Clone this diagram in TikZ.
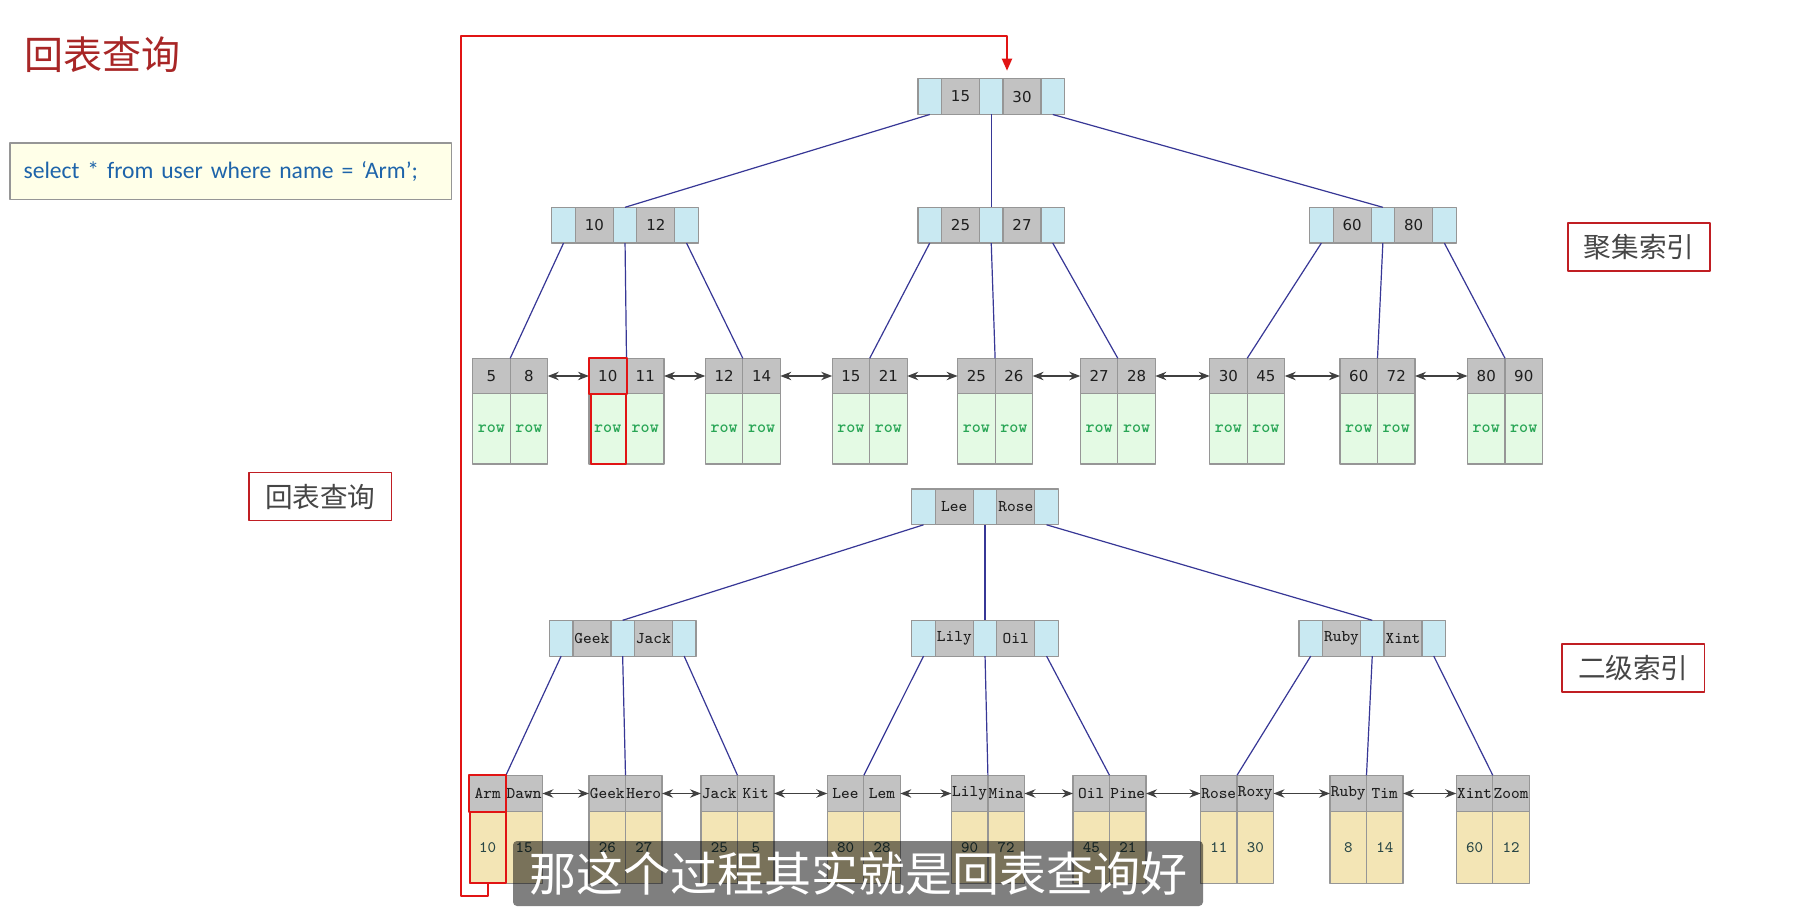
\documentclass[tikz,border=0pt]{standalone}
\usepackage{fontspec}
\usetikzlibrary{positioning,arrows.meta}
\newfontfamily\cjk{Noto Sans CJK SC}
\newfontfamily\keyfont{DejaVu Sans}
\newfontfamily\sqlfont{Carlito}
\definecolor{ptrblue}{RGB}{201,233,242}
\definecolor{keygray}{RGB}{194,194,194}
\definecolor{cellline}{RGB}{150,150,150}
\definecolor{rowgreen}{RGB}{228,250,228}
\definecolor{rowtext}{RGB}{40,165,85}
\definecolor{valtan}{RGB}{243,229,181}
\definecolor{valtext}{RGB}{40,70,70}
\definecolor{keytext}{RGB}{30,30,30}
\definecolor{treeline}{RGB}{55,55,150}
\definecolor{chainline}{RGB}{64,64,64}
\definecolor{titlered}{RGB}{168,38,38}
\definecolor{tagred}{RGB}{192,30,35}
\definecolor{tagtext}{RGB}{70,70,70}
\definecolor{sqlfill}{RGB}{255,255,232}
\definecolor{sqltext}{RGB}{30,100,170}
\definecolor{loopred}{RGB}{225,20,20}

% one inner node: pointer / key / pointer / key / pointer
\newcommand{\btnode}[6]{%
  \node[pcell, anchor=north west] (#2p1) at (#3,#4) {};
  \node[#1 ikey, right=0pt of #2p1] (#2k1) {#5};
  \node[pcell, right=0pt of #2k1] (#2p2) {};
  \node[#1 ikey, right=0pt of #2p2] (#2k2) {#6};
  \node[pcell, right=0pt of #2k2] (#2p3) {};
}
% one leaf: two keys with their values below
\newcommand{\btleaf}[8]{%
  \node[#1 key, anchor=north west] (#2k1) at (#3,#4) {#5};
  \node[#1 key, right=0pt of #2k1] (#2k2) {#6};
  \node[#1 val, below=0pt of #2k1] (#2v1) {#7};
  \node[#1 val, below=0pt of #2k2] (#2v2) {#8};
}

\tikzset{
  btcell/.style={draw=cellline, line width=0.6pt, inner sep=0pt, outer sep=0pt},
  pcell/.style={btcell, fill=ptrblue, minimum width=11.75pt, minimum height=17.9pt},
  cl ikey/.style={btcell, fill=keygray, minimum width=19pt, minimum height=17.9pt, text=keytext, font=\keyfont\fontsize{7.5}{8}\selectfont},
  sk ikey/.style={btcell, fill=keygray, minimum width=19pt, minimum height=17.9pt, text=keytext, font=\ttfamily\fontsize{8.2}{9}\selectfont},
  cl key/.style={btcell, fill=keygray, minimum width=18.75pt, minimum height=17.7pt, text=keytext, font=\keyfont\fontsize{7.5}{8}\selectfont},
  cl val/.style={btcell, fill=rowgreen, minimum width=18.75pt, minimum height=35.15pt, text=rowtext, font=\ttfamily\bfseries\fontsize{8.6}{9}\selectfont},
  sk key/.style={btcell, fill=keygray, minimum width=18.25pt, minimum height=18.2pt, text=keytext, font=\ttfamily\fontsize{8.2}{9}\selectfont},
  sk val/.style={btcell, fill=valtan, minimum width=18.25pt, minimum height=35.8pt, text=valtext, font=\ttfamily\fontsize{8}{9}\selectfont},
  link/.style={draw=treeline, line width=0.6pt},
  chain/.style={draw=chainline, line width=0.7pt, {Stealth[length=5.5pt,width=4.2pt]}-{Stealth[length=5.5pt,width=4.2pt]}},
  hilite/.style={draw=loopred, line width=1pt},
  tag/.style={draw=tagred, line width=0.9pt, fill=white, inner sep=0pt, minimum width=71.2pt, minimum height=24pt, text=tagtext, font=\cjk\fontsize{13.8}{16}\selectfont},
}

\begin{document}
\begin{tikzpicture}[x=0.5pt, y=-0.5pt, line join=round]
	\fill[white] (0,0) rectangle (1817,909);
	\useasboundingbox (0,0) rectangle (1817,909);
	% left column
	\node[anchor=west, inner sep=0pt, text=titlered, font=\cjk\fontsize{19.5}{22}\selectfont] (title) at (24,55) {回表查询};
	\node[anchor=north west, draw=cellline, line width=0.6pt, fill=sqlfill, inner xsep=6.85pt, inner ysep=0pt, text width=207pt, minimum height=28.4pt, align=left, text=sqltext, font=\sqlfont\fontsize{11.8}{14}\selectfont] (sql) at (9.3,142.5) {select * from user where name = ‘Arm’;};
	\node[tag] (back) at (320.3,496.5) {回表查询};
	\node[tag] (clustered) at (1639,246.8) {聚集索引};
	\node[tag] (secondary) at (1633.3,668) {二级索引};
	% clustered index
	\btnode{cl}{cr}{918}{78.7}{15}{30}
	\btnode{cl}{ca}{551.8}{207.3}{10}{12}
	\btnode{cl}{cb}{918}{207.3}{25}{27}
	\btnode{cl}{cc}{1309.6}{207.3}{60}{80}
	\btleaf{cl}{c1}{472.7}{358.3}{5}{8}{row}{row}
	\btleaf{cl}{c2}{589}{358.3}{10}{11}{row}{row}
	\btleaf{cl}{c3}{705.3}{358.3}{12}{14}{row}{row}
	\btleaf{cl}{c4}{832.2}{358.3}{15}{21}{row}{row}
	\btleaf{cl}{c5}{957.6}{358.3}{25}{26}{row}{row}
	\btleaf{cl}{c6}{1080.3}{358.3}{27}{28}{row}{row}
	\btleaf{cl}{c7}{1209.7}{358.3}{30}{45}{row}{row}
	\btleaf{cl}{c8}{1340}{358.3}{60}{72}{row}{row}
	\btleaf{cl}{c9}{1467.5}{358.3}{80}{90}{row}{row}
	% secondary index
	\btnode{sk}{sr}{911.8}{489}{Lee}{Rose}
	\btnode{sk}{sa}{549.4}{620.3}{Geek}{Jack}
	\btnode{sk}{sb}{911.8}{620.3}{Lily}{Oil}
	\btnode{sk}{sc}{1299}{620.3}{Ruby}{Xint}
	\btleaf{sk}{s1}{469.4}{775.3}{Arm}{Dawn}{10}{15}
	\btleaf{sk}{s2}{589}{775.3}{Geek}{Hero}{26}{27}
	\btleaf{sk}{s3}{701}{775.3}{Jack}{Kit}{25}{5}
	\btleaf{sk}{s4}{827.3}{775.3}{Lee}{Lem}{80}{28}
	\btleaf{sk}{s5}{951.4}{775.3}{Lily}{Mina}{90}{72}
	\btleaf{sk}{s6}{1073}{775.3}{Oil}{Pine}{45}{21}
	\btleaf{sk}{s7}{1200.5}{775.3}{Rose}{Roxy}{11}{30}
	\btleaf{sk}{s8}{1330}{775.3}{Ruby}{Tim}{8}{14}
	\btleaf{sk}{s9}{1456.3}{775.3}{Xint}{Zoom}{60}{12}
	% tree links
	\foreach \i/\ch in {1/a,2/b,3/c} {
		\draw[link] (crp\i.south) -- (c\ch p2.north);
		\draw[link] (srp\i.south) -- (s\ch p2.north);
	}
	\foreach \pa/\i/\lf in {a/1/1,a/2/2,a/3/3,b/1/4,b/2/5,b/3/6,c/1/7,c/2/8,c/3/9} {
		\draw[link] (c\pa p\i.south) -- (c\lf k1.north east);
		\draw[link] (s\pa p\i.south) -- (s\lf k1.north east);
	}
	% leaf chains
	\foreach \a [count=\b from 2] in {1,...,8} {
		\draw[chain] (c\a k2.east) -- (c\b k1.west);
		\draw[chain] (s\a k2.east) -- (s\b k1.west);
	}
	% lookup back to the clustered index
	\draw[hilite] (c2k1.north west) rectangle (c2k1.south east);
	\draw[hilite] ([xshift=1pt]c2v1.north west) rectangle ([xshift=-0.5pt]c2v1.south east);
	\draw[hilite] (s1k1.north west) rectangle (s1k1.south east);
	\draw[hilite] ([xshift=0.5pt]s1v1.north west) rectangle (s1v1.south east);
	\coordinate (turn) at (461.2,35.7);
	\draw[draw=loopred, line width=1pt, -{Triangle[length=6pt,width=5pt]}, shorten >=4pt] (s1v1.south) -- ++(0,13) -| (turn) -| ([xshift=2pt]crk2.north west);
	% subtitle
	\node[fill=black, fill opacity=0.5, text opacity=1, text=white, rounded corners=2pt, inner sep=0pt, minimum width=345pt, minimum height=32.5pt, font=\cjk\fontsize{23.5}{26}\selectfont] (subtitle) at (858,873.5) {那这个过程其实就是回表查询好};
\end{tikzpicture}
\end{document}
